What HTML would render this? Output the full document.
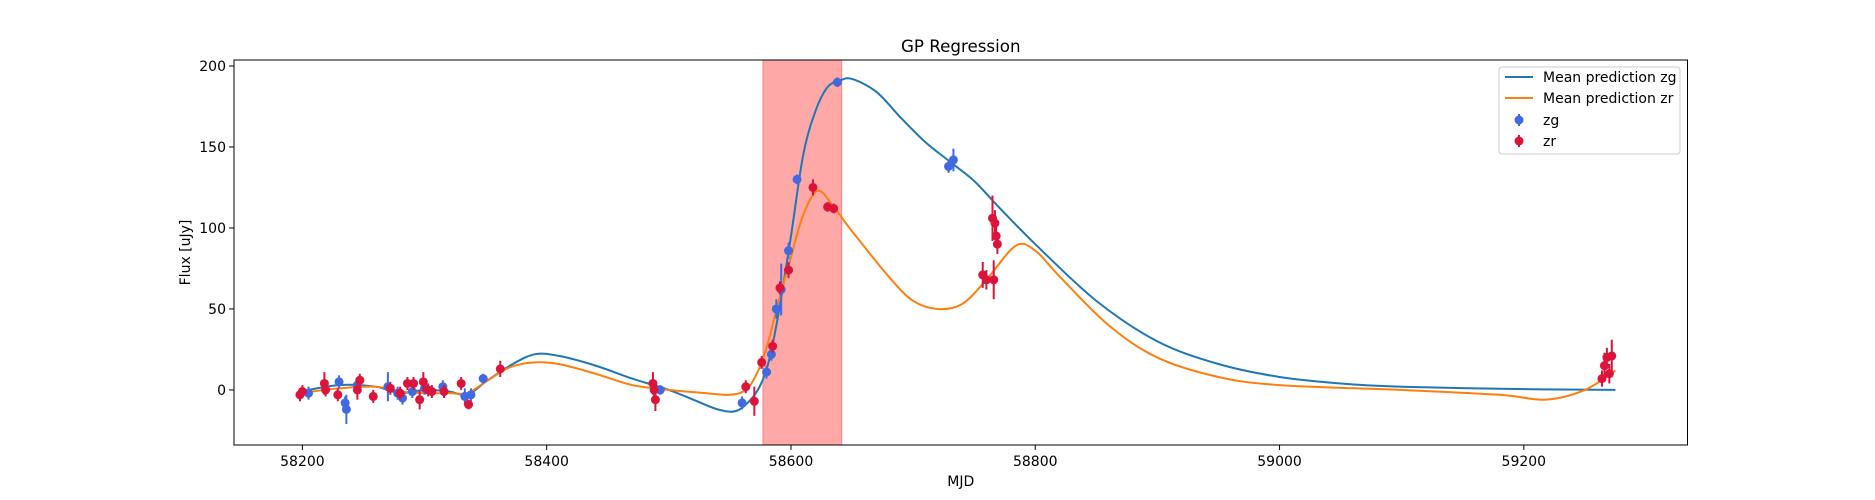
<!DOCTYPE html>
<html><head><meta charset="utf-8"><style>
body{margin:0;background:#fff;}
svg{display:block;font-family:"DejaVu Sans","Liberation Sans",sans-serif;}
</style></head><body>
<svg id="chart" width="1875" height="500" xmlns="http://www.w3.org/2000/svg"></svg>
<script>
const zgCurveX=[58198,58230,58260,58280,58300,58320,58335,58350,58370,58390,58410,58440,58470,58500,58520,58540,58555,58567,58575,58582,58590,58600,58610,58620,58630,58640,58650,58670,58690,58710,58730,58750,58770,58800,58850,58900,58950,59000,59050,59100,59200,59275];
const zgCurveY=[-1,3,2,-2,0,-1,-3,5,15,22,21,15,7,0,-6,-12,-13,-6,3,18,48,95,145,172,187,191,192,184,168,153,141,129,113,90,55,30,16,8,4,2,0.5,0];
const zrCurveX=[58198,58230,58260,58280,58300,58320,58335,58350,58370,58390,58410,58440,58470,58500,58530,58550,58563,58572,58580,58590,58600,58610,58622,58635,58650,58680,58700,58720,58740,58760,58784,58800,58820,58860,58900,58950,59000,59100,59180,59218,59250,59275];
const zrCurveY=[-2,1,2,-1,-2,-2,-2,5,14,17,16,10,3,0,-2,-3,0,10,26,55,82,108,123,113,98,70,55,50,53,68,89,86,70,40,20,8,3,0,-3,-6,0,12];
const zgX=[58205,58230,58235,58236,58245,58270,58278,58282,58290,58300,58315,58333,58338,58348,58493,58560,58580,58584,58588,58592,58598,58605,58638,58729,58733];
const zgY=[-2,5,-8,-12,3,2,-2,-5,-1,1,2,-4,-3,7,0,-8,11,22,50,62,86,130,190,138,142];
const zgErr=[4,4,4,9,4,9,4,4,4,4,4,5,4,3,3,4,4,4,6,16,5,3,3,4,7];
const zrX=[58198,58200,58218,58219,58229,58245,58247,58258,58272,58280,58286,58291,58296,58299,58303,58306,58316,58330,58336,58362,58487,58488,58489,58563,58570,58576,58585,58591,58598,58618,58630,58635,58757,58760,58765,58767,58768,58769,58766,59264,59266,59268,59270,59272];
const zrY=[-3,-1,4,0,-3,0,6,-4,1,-2,4,4,-6,5,0,-1,-1,4,-9,13,4,0,-6,2,-7,17,27,63,74,125,113,112,71,68,106,103,95,90,68,7,15,20,10,21];
const zrErr=[4,4,7,4,4,6,4,4,4,4,4,4,6,6,4,4,4,4,3,5,7,5,7,4,9,4,4,4,5,5,3,3,8,6,14,8,6,6,12,5,8,6,6,10];
const yTicks=[0,50,100,150,200];
const xTicks=[58200,58400,58600,58800,59000,59200];
const bandX=[58577,58641.6];

const L=234,R=1687.5,T=60,B=445,XMIN=58144,XMAX=59334,YMIN=-34,YMAX=203.7;
const sx=v=>L+(v-XMIN)/(XMAX-XMIN)*(R-L);
const sy=v=>B-(v-YMIN)/(YMAX-YMIN)*(B-T);
const svg=document.getElementById('chart');
const NS='http://www.w3.org/2000/svg';
function mk(tag,attrs,parent){const e=document.createElementNS(NS,tag);for(const k in attrs)e.setAttribute(k,attrs[k]);(parent||svg).appendChild(e);return e;}
function txt(s,attrs){const e=mk('text',attrs);e.textContent=s;return e;}

let band=mk('rect',{x:sx(bandX[0]),y:T,width:sx(bandX[1])-sx(bandX[0]),height:B-T,fill:'#ff0000','fill-opacity':0.34,stroke:'#ff0000','stroke-opacity':0.34});



function smooth(xs,ys){
  const p=xs.map((x,i)=>[sx(x),sy(ys[i])]);
  let d='M'+p[0][0]+','+p[0][1];
  for(let i=0;i<p.length-1;i++){
    const p0=p[i-1]||p[i],p1=p[i],p2=p[i+1],p3=p[i+2]||p2;
    const c1=[p1[0]+(p2[0]-p0[0])/6,p1[1]+(p2[1]-p0[1])/6];
    const c2=[p2[0]-(p3[0]-p1[0])/6,p2[1]-(p3[1]-p1[1])/6];
    d+=' C'+c1+' '+c2+' '+p2;
  }
  return d;
}
let zgLine=mk('path',{d:smooth(zgCurveX,zgCurveY),fill:'none',stroke:'#1f77b4','stroke-width':2});


let zrLine=mk('path',{d:smooth(zrCurveX,zrCurveY),fill:'none',stroke:'#ff7f0e','stroke-width':2});



function points(xs,ys,es,color,name){
  const g=mk('g',{});
  
  
  xs.forEach((x,i)=>{
    const l=mk('line',{x1:sx(x),x2:sx(x),y1:sy(ys[i]-es[i]),y2:sy(ys[i]+es[i]),stroke:color,'stroke-width':2},g);
    
    
    const c=mk('circle',{cx:sx(x),cy:sy(ys[i]),r:4.5,fill:color},g);
    
    
  });
}
points(zgX,zgY,zgErr,'#4169e1','zg');
points(zrX,zrY,zrErr,'#dc143c','zr');

let frame=mk('rect',{x:L,y:T,width:R-L,height:B-T,fill:'none',stroke:'#000','stroke-width':1});


yTicks.forEach(v=>{
  const t=mk('line',{x1:L-5,x2:L,y1:sy(v),y2:sy(v),stroke:'#000'});
  
  
  const l=txt(String(v),{x:L-8,y:sy(v)+5,'text-anchor':'end','font-size':14,fill:'#000'});
  
  
});
xTicks.forEach(v=>{
  const t=mk('line',{x1:sx(v),x2:sx(v),y1:B,y2:B+5,stroke:'#000'});
  
  
  const l=txt(String(v),{x:sx(v),y:B+21,'text-anchor':'middle','font-size':14,fill:'#000'});
  
  
});
let title=txt('GP Regression',{x:(L+R)/2,y:52,'text-anchor':'middle','font-size':16.7,fill:'#000'});


let xl=txt('MJD',{x:(L+R)/2,y:486,'text-anchor':'middle','font-size':14,fill:'#000'});


let yl=txt('Flux [uJy]',{x:0,y:0,'text-anchor':'middle','font-size':14,fill:'#000',transform:`translate(190,${(T+B)/2}) rotate(-90)`});



const lg=mk('g',{});


mk('rect',{x:1499,y:67,width:181,height:87,rx:3,fill:'#fff','fill-opacity':0.8,stroke:'#ccc'},lg);
const entries=[['Mean prediction zg','line','#1f77b4',77],['Mean prediction zr','line','#ff7f0e',98],['zg','pt','#4169e1',120],['zr','pt','#dc143c',141]];
entries.forEach(e=>{
  const g=mk('g',{},lg);
  
  
  if(e[1]==='line') mk('line',{x1:1505,x2:1533,y1:e[3],y2:e[3],stroke:e[2],'stroke-width':2},g);
  else{mk('line',{x1:1519,x2:1519,y1:e[3]-6,y2:e[3]+6,stroke:e[2],'stroke-width':2},g);mk('circle',{cx:1519,cy:e[3],r:4.5,fill:e[2]},g);}
  const t=mk('text',{x:1543,y:e[3]+5,'font-size':14,fill:'#000'},g);t.textContent=e[0];
});
</script>
</body></html>
